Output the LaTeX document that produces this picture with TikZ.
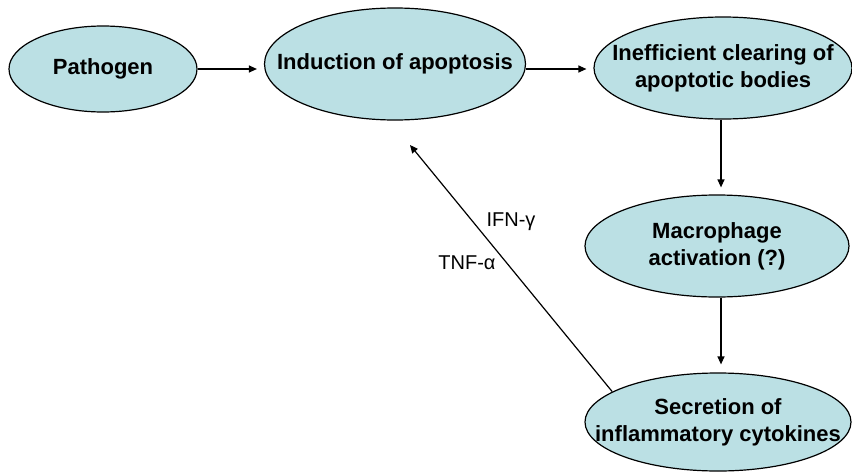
\documentclass[tikz,border=0pt]{standalone}
\usepackage{fontspec}
\setmainfont{Liberation Sans}
\usetikzlibrary{shapes.geometric,arrows.meta}
\definecolor{cellfill}{RGB}{187,224,228}
\tikzset{
  stage/.style={ellipse, draw=black, line width=1.2pt, fill=cellfill,
    inner sep=0pt},
  stagetext/.style={align=center, inner sep=0pt,
    font=\fontsize{22}{27}\selectfont\bfseries},
  flow/.style={line width=1.2pt, -{Triangle[length=8pt,width=7pt]}},
  cyto/.style={font=\fontsize{20}{24}\selectfont, inner sep=0pt}
}
\begin{document}
\begin{tikzpicture}[x=1pt,y=-1pt]
  \useasboundingbox (0,0) rectangle (852,474);

  % stages of the cycle (ellipse outlines, labels set on top)
  \node[stage, minimum width=188pt, minimum height=86pt]  (path)  at (103,69)  {};
  \node[stage, minimum width=261pt, minimum height=112pt] (ind)   at (395,64)  {};
  \node[stage, minimum width=258pt, minimum height=102pt] (ineff) at (723,68)  {};
  \node[stage, minimum width=264pt, minimum height=102pt] (mac)   at (717,246) {};
  \node[stage, minimum width=266pt, minimum height=98pt]  (sec)   at (718,422) {};

  \node[stagetext] (pathtext)  at (path)  {Pathogen};
  \node[stagetext] (indtext)   at (ind)   {Induction of apoptosis};
  \node[stagetext] (inefftext) at (ineff) {Inefficient clearing of\\apoptotic bodies};
  \node[stagetext] (mactext)   at (mac)   {Macrophage\\activation (?)};
  \node[stagetext] (sectext)   at (sec)   {Secretion of\\inflammatory cytokines};

  % forward steps
  \draw[flow, shorten >=7pt] (path.east) -- (path.east -| ind.west);
  \draw[flow, shorten >=7pt] (ind.east |- path.east) -- (ineff.west |- path.east);
  \draw[flow, shorten >=7pt] (ineff.south -| 721,0) -- (mac.north -| 721,0);
  \draw[flow, shorten >=8pt] (mac.south -| 721,0) -- (sec.north -| 721,0);

  % feedback of cytokines onto apoptosis
  \coordinate (fbtip) at (410,145);
  \draw[flow] (sec.164) -- (fbtip);
  \node[cyto] (ifn) at (511,222) {IFN-γ};
  \node[cyto] (tnf) at (467,263) {TNF-α};
\end{tikzpicture}
\end{document}
